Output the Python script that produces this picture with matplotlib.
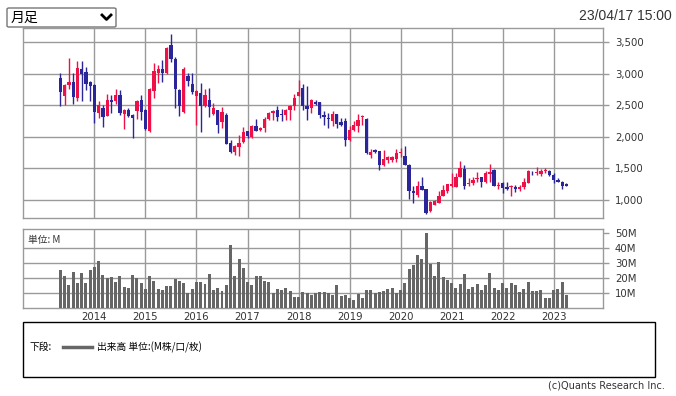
import numpy as np
import pandas as pd
import matplotlib
matplotlib.use("Agg")
import matplotlib.pyplot as plt
from matplotlib.patches import Rectangle, FancyBboxPatch
from matplotlib.lines import Line2D

plt.rcParams['font.family'] = ['DejaVu Sans', 'Noto Sans CJK JP']

# monthly candles, May 2013 .. Apr 2023
months = pd.date_range("2013-05-01", "2023-04-01", freq="MS")

opens = [2929, 2654, 2823, 2876, 2611, 3077, 3035, 2871,
         2823, 2373, 2453, 2331, 2585, 2574, 2664, 2363, 2426, 2347, 2416, 2585,
         2426, 2093, 2728, 3008, 3077, 3008, 3458, 3230, 2743, 2393, 2964, 2844,
         2652, 2689, 2497, 2590, 2356, 2419, 2237, 2341, 1900, 1754, 1837, 1926,
         2092, 1993, 2170, 2107, 2133, 2284, 2377, 2419, 2367, 2341, 2419, 2486,
         2652, 2782, 2497, 2458, 2548, 2548, 2352, 2294, 2246, 2368, 2230, 2246,
         1944, 2103, 2177, 2310, 2288, 1716, 1785, 1769, 1557, 1626, 1626, 1647,
         1742, 1700, 1557, 1149, 1080, 1224, 1177, 823, 927, 953, 1068, 1135,
         1229, 1213, 1370, 1490, 1255, 1266, 1328, 1360, 1292, 1406, 1474, 1224,
         1276, 1213, 1203, 1203, 1182, 1213, 1276, 1448, 1422, 1406, 1458, 1464,
         1396, 1318, 1292, 1255]
highs = [3019, 2830, 3257, 3019, 3209, 3209, 3114, 2880,
         2830, 2564, 2505, 2680, 2664, 2759, 2743, 2440, 2453, 2355, 2590, 2664,
         2440, 2780, 3167, 3140, 3220, 3431, 3632, 3272, 2760, 3100, 3015, 3015,
         2740, 2860, 2766, 2782, 2538, 2425, 2471, 2377, 1952, 1865, 2029, 2159,
         2098, 2185, 2289, 2150, 2315, 2390, 2430, 2497, 2445, 2445, 2510, 2678,
         2896, 2834, 2808, 2600, 2590, 2550, 2405, 2378, 2405, 2370, 2299, 2299,
         2166, 2246, 2368, 2352, 2300, 1806, 1806, 1775, 1785, 1690, 1690, 1806,
         1822, 1859, 1565, 1223, 1303, 1370, 1180, 979, 1005, 1135, 1240, 1260,
         1422, 1422, 1620, 1552, 1344, 1360, 1437, 1370, 1464, 1578, 1485, 1292,
         1290, 1290, 1230, 1240, 1240, 1344, 1474, 1464, 1516, 1485, 1500, 1470,
         1422, 1344, 1308, 1266]
lows = [2490, 2505, 2759, 2521, 2574, 2569, 2743, 2574,
        2215, 2294, 2162, 2325, 2384, 2521, 2347, 2119, 2310, 1976, 2280, 2267,
        2109, 2080, 2611, 2849, 2865, 2997, 3193, 2453, 2331, 2380, 2808, 2678,
        2185, 2081, 2480, 2315, 2340, 2066, 2133, 1885, 1744, 1718, 1692, 1910,
        1978, 1990, 2092, 2095, 2081, 2270, 2260, 2253, 2253, 2273, 2273, 2419,
        2640, 2429, 2273, 2378, 2500, 2299, 2193, 2140, 2177, 2140, 2177, 1848,
        1928, 2087, 2071, 2193, 1735, 1663, 1742, 1477, 1541, 1583, 1600, 1610,
        1674, 1550, 1011, 958, 1054, 1151, 786, 812, 920, 950, 1057, 1109,
        1213, 1203, 1360, 1172, 1224, 1240, 1292, 1213, 1276, 1292, 1224, 1172,
        1109, 1160, 1057, 1120, 1150, 1172, 1265, 1400, 1396, 1380, 1422, 1380,
        1266, 1292, 1172, 1224]
closes = [2717, 2823, 2876, 2638, 3098, 2997, 2839, 2812,
          2400, 2500, 2320, 2585, 2553, 2659, 2373, 2426, 2331, 2294, 2574, 2400,
          2125, 2759, 3045, 3077, 3008, 3405, 3230, 2754, 2490, 3072, 2886, 2704,
          2730, 2497, 2663, 2471, 2455, 2185, 2393, 1889, 1754, 1858, 1910, 2081,
          2014, 2170, 2097, 2133, 2279, 2377, 2408, 2315, 2351, 2419, 2497, 2616,
          2715, 2486, 2445, 2590, 2521, 2352, 2315, 2288, 2368, 2209, 2193, 1954,
          2113, 2193, 2262, 2325, 1742, 1753, 1758, 1557, 1647, 1674, 1674, 1742,
          1758, 1557, 1149, 1117, 1223, 1161, 797, 963, 979, 1068, 1151, 1255,
          1255, 1370, 1500, 1224, 1276, 1318, 1354, 1292, 1422, 1448, 1224, 1240,
          1198, 1182, 1224, 1182, 1213, 1292, 1464, 1437, 1437, 1464, 1474, 1396,
          1318, 1292, 1229, 1224]
# volume, million shares
volume = [25.5, 21.4, 15.2, 24.1, 16.6, 23.4, 16.6, 25.5,
          27.5, 31.6, 22.0, 19.8, 20.7, 17.3, 21.4, 14.1, 13.2, 22.0, 20.0, 16.6,
          12.5, 21.4, 18.0, 12.5, 11.8, 14.5, 14.5, 19.3, 18.0, 16.6, 9.8, 12.5,
          17.3, 17.3, 15.9, 22.7, 11.8, 13.2, 11.1, 15.2, 42.5, 21.4, 33.0, 26.8,
          17.3, 15.2, 21.4, 21.4, 18.0, 17.3, 9.8, 12.5, 11.8, 13.2, 11.1, 7.7,
          7.7, 10.5, 9.8, 8.4, 9.8, 10.5, 10.5, 9.8, 8.4, 15.2, 8.0, 8.6,
          6.4, 5.7, 9.3, 6.4, 11.8, 11.8, 9.8, 10.5, 11.1, 12.5, 13.2, 9.8,
          11.8, 16.6, 26.0, 28.9, 35.7, 33.0, 50.0, 29.5, 21.4, 30.9, 20.7, 18.6,
          16.6, 13.2, 15.9, 22.7, 12.5, 13.9, 15.9, 11.8, 15.2, 23.4, 13.2, 11.8,
          16.6, 13.2, 16.6, 15.2, 10.5, 12.5, 17.3, 11.1, 11.1, 11.8, 6.4, 6.4,
          11.8, 12.5, 17.3, 8.4]

price_ticks = [1000, 1500, 2000, 2500, 3000, 3500]
vol_ticks = [10, 20, 30, 40, 50]

up_color = '#F01048'
down_color = '#2A2699'
grid_color = '#9A9A9A'
text_color = '#333333'

o = np.array(opens, dtype=float)
h = np.array(highs, dtype=float)
l = np.array(lows, dtype=float)
c = np.array(closes, dtype=float)
x = np.arange(len(months))
colors = [up_color if cc >= oo else down_color for oo, cc in zip(o, c)]
year_pos = x[months.month == 1]
year_lab = [str(d.year) for d in months[months.month == 1]]

fig = plt.figure(figsize=(6.76, 3.96), dpi=100)
W, H = 676, 396


def box(l_, t_, r_, b_):
    return [l_ / W, 1 - b_ / H, (r_ - l_) / W, (b_ - t_) / H]


ax = fig.add_axes(box(23, 28, 603, 218))
axv = fig.add_axes(box(23, 229, 603, 308))

# price panel
ax.vlines(x, l, h, colors=colors, linewidth=1.0, zorder=3)
body = np.maximum(np.abs(c - o), 14)
ax.bar(x, body, bottom=np.minimum(o, c), width=0.78, color=colors, linewidth=0, zorder=4)
ax.set_xlim(-8.8, 127.6)
ax.set_ylim(715, 3725)
ax.set_yticks(price_ticks)
ax.set_yticklabels([f"{v:,}" for v in price_ticks])
ax.set_xticks(year_pos)
ax.set_xticklabels([])
ax.grid(True, color=grid_color, linewidth=1.0, zorder=0)

# volume panel
axv.bar(x, volume, width=0.7, color='#666666', linewidth=0, zorder=3)
axv.set_xlim(-8.8, 127.6)
axv.set_ylim(0, 53)
axv.set_yticks(vol_ticks)
axv.set_yticklabels([f"{v}M" for v in vol_ticks])
axv.set_xticks(year_pos)
axv.set_xticklabels(year_lab)
axv.xaxis.grid(True, color=grid_color, linewidth=1.0, zorder=0)
for v in vol_ticks[:-1]:
    axv.axhline(v, color=grid_color, linewidth=1.0, zorder=0)
axv.text(0.008, 0.93, "単位: M", transform=axv.transAxes, fontsize=7,
         family=['Noto Sans CJK JP', 'DejaVu Sans'], color=text_color, va='top')

for a in (ax, axv):
    a.set_axisbelow(True)
    a.yaxis.tick_right()
    for s in a.spines.values():
        s.set_color(grid_color)
        s.set_linewidth(1.0)
    a.tick_params(axis='y', direction='out', length=4.5, width=1, color=grid_color,
                  labelsize=7.3, labelcolor=text_color, pad=4)
    a.tick_params(axis='x', length=0, labelsize=7.3, labelcolor=text_color, pad=3)

# top controls
fig.patches.append(FancyBboxPatch((7 / W, 1 - 27 / H), 109 / W, 19 / H,
                                  boxstyle="round,pad=0,rounding_size=0.003",
                                  transform=fig.transFigure, facecolor='white',
                                  edgecolor='#767676', linewidth=1.0))
fig.text(11 / W, 1 - 17.5 / H, "月足", fontsize=10, va='center',
         family=['Noto Sans CJK JP', 'DejaVu Sans'], color='black')
fig.add_artist(Line2D([102 / W, 106.5 / W, 111 / W], [1 - 15 / H, 1 - 19.5 / H, 1 - 15 / H],
                      transform=fig.transFigure, color='black', linewidth=2.0))
fig.text(672 / W, 1 - 16 / H, "23/04/17 15:00", fontsize=10, ha='right', va='center',
         family='Liberation Sans', color=text_color)

# legend box
fig.patches.append(Rectangle((23 / W, 1 - 377 / H), 632 / W, 55 / H, transform=fig.transFigure,
                             facecolor='none', edgecolor='black', linewidth=1.0))
fig.text(30 / W, 1 - 347 / H, "下段:", fontsize=7, va='center',
         family=['Noto Sans CJK JP', 'DejaVu Sans'], color='black')
fig.add_artist(Line2D([63 / W, 92 / W], [1 - 347 / H, 1 - 347 / H],
                      transform=fig.transFigure, color='#666666', linewidth=2.5))
fig.text(97 / W, 1 - 347 / H, "出来高 単位:(M株/口/枚)", fontsize=7, va='center',
         family=['Noto Sans CJK JP', 'DejaVu Sans'], color='black')
fig.text(665 / W, 1 - 386 / H, "(c)Quants Research Inc.", fontsize=7, ha='right', va='center',
         family='Liberation Sans Narrow', color=text_color)

fig.savefig("out.png", dpi=100)
plt.close(fig)
